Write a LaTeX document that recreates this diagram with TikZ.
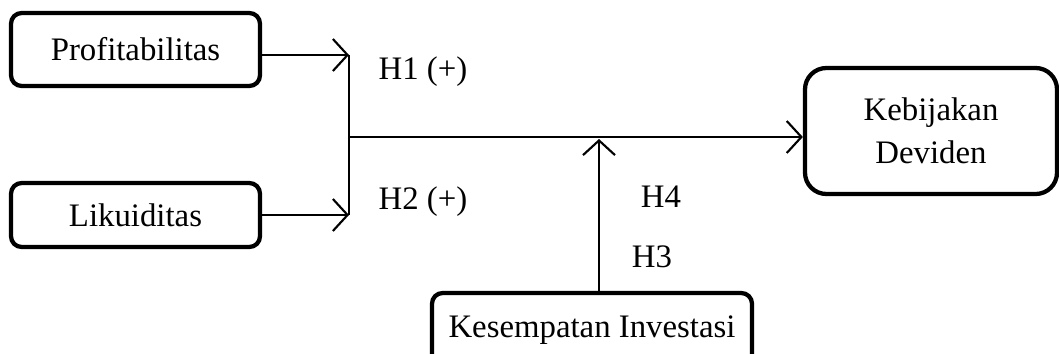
\documentclass[tikz,border=0pt]{standalone}
\usepackage{fontspec}
\setmainfont{Liberation Serif}
\usetikzlibrary{arrows.meta}

\tikzset{
    varbox/.style={draw, line width=1.6pt, rounded corners=4pt, align=center, inner sep=0pt},
    link/.style={line width=0.8pt, -{Straight Barb[length=5.5pt, width=12pt, line width=0.8pt]}},
    hlabel/.style={inner sep=0pt}
}

\begin{document}
\begin{tikzpicture}[x=0.375pt, y=-0.375pt, font=\fontsize{12.3}{15}\selectfont]
            \useasboundingbox (0,0) rectangle (1059,353);

            % Variables
            \node[varbox, minimum width=249*0.375pt, minimum height=73*0.375pt] (profit) at (135.5,49.5) {Profitabilitas};
            \node[varbox, minimum width=249*0.375pt, minimum height=64*0.375pt] (likuid) at (135.5,215) {\raisebox{-2pt}{Likuiditas}};
            \node[varbox, rounded corners=8pt, minimum width=252*0.375pt, minimum height=126*0.375pt] (dpr) at (931,131) {\raisebox{1pt}{Kebijakan}\\Deviden};
            \node[varbox, minimum width=320*0.375pt, minimum height=74*0.375pt] (ios) at (592,330) {\raisebox{-2pt}{Kesempatan Investasi}};

            % Joints
            \coordinate (j1) at (349,55);
            \coordinate (j2) at (349,215);
            \coordinate (jm) at (349,137);
            \coordinate (mod) at (599,139);

            % Connectors
            \draw[link] (j1 -| profit.east) -- (j1);
            \draw[link] (j2 -| likuid.east) -- (j2);
            \draw[line width=0.8pt] (j1) -- (j2);
            \draw[link] (jm) -- (jm -| dpr.west);
            \draw[link] (ios.north -| mod) -- (mod);

            % Hypotheses
            \node[hlabel] (h1) at (423,72) {H1 (+)};
            \node[hlabel] (h2) at (423,202) {H2 (+)};
            \node[hlabel] (h4) at (661,197) {H4};
            \node[hlabel] (h3) at (652,257) {H3};
        \end{tikzpicture}
\end{document}
